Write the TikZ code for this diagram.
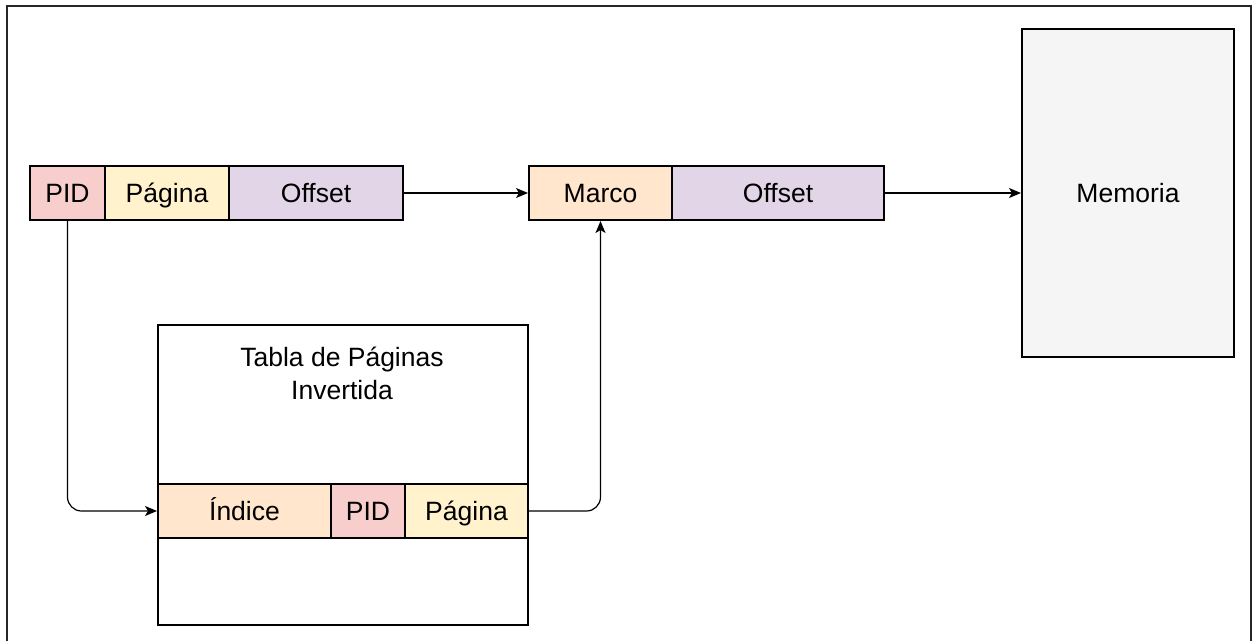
\documentclass[tikz,border=0pt]{standalone}
\usepackage{fontspec}
\setmainfont{Liberation Sans}
\usetikzlibrary{arrows.meta}
\definecolor{cpid}{HTML}{F8CECC}
\definecolor{cpag}{HTML}{FFF2CC}
\definecolor{coff}{HTML}{E1D5E7}
\definecolor{cmar}{HTML}{FFE6CC}
\definecolor{cmem}{HTML}{F5F5F5}
\tikzset{
  cell/.style={draw=black, line width=2pt, anchor=north west, inner sep=0pt,
    minimum height=54pt, text height=19pt, text depth=0pt,
    font=\fontsize{26.5}{32}\selectfont},
  conn/.style={draw=black, line width=1.2pt, rounded corners=14pt,
    -{Stealth[length=12pt,width=10pt,inset=3pt]}},
}
\begin{document}
\begin{tikzpicture}[x=1pt,y=-1pt]
\useasboundingbox (0,0) rectangle (1255,641);
% outer frame
\draw[line width=2pt, black!85] (7,641) -- (7,6) -- (1251,6) -- (1251,641);
% top-left address
\node[cell, fill=cpid, minimum width=75pt] (pid1) at (29,165) {PID};
\node[cell, fill=cpag, minimum width=124pt] (pag1) at (104,165) {Página};
\node[cell, fill=coff, minimum width=174pt] (off1) at (228,165) {Offset};
% physical address
\node[cell, fill=cmar, minimum width=143pt] (marco) at (528,165) {Marco};
\node[cell, fill=coff, minimum width=212pt] (off2) at (671,165) {Offset};
% memory
\node[cell, fill=cmem, minimum width=212pt, minimum height=328pt] (mem) at (1021,28) {Memoria};
% inverted page table
\node[cell, fill=white, minimum width=370pt, minimum height=300pt] (tabla) at (157,324) {};
\node[anchor=north, align=center, inner sep=0pt, font=\fontsize{26.5}{33}\selectfont] (titulo) at (342,347) {Tabla de Páginas\\Invertida};
\node[cell, fill=cmar, minimum width=173pt] (indice) at (157,483) {Índice};
\node[cell, fill=cpid, minimum width=74pt] (pid2) at (330,483) {PID};
\node[cell, fill=cpag, minimum width=123pt] (pag2) at (404,483) {Página};
% connectors
\draw[conn] (off1.east) -- (marco.west);
\draw[conn] (off2.east) -- (mem.west);
\draw[conn] (pid1.south) |- (indice.west);
\draw[conn] (pag2.east) -| (marco.south);
\end{tikzpicture}
\end{document}
